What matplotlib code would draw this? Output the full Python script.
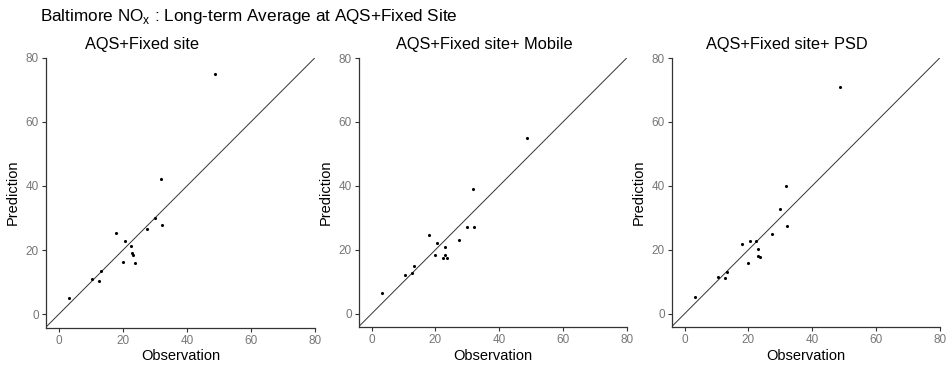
import numpy as np
import matplotlib
matplotlib.use("Agg")
import matplotlib.pyplot as plt

plt.rcParams["font.family"] = ["Liberation Sans", "DejaVu Sans"]
plt.rcParams["mathtext.fontset"] = "custom"
plt.rcParams["mathtext.rm"] = "Liberation Sans"

# observed long-term averages (same sites in every panel)
observation = [3.3, 10.4, 12.7, 13.3, 17.9, 19.9, 20.6, 22.4, 23.0, 23.1, 23.7,
               27.4, 29.9, 31.8, 32.1, 48.7]

# model predictions for each approach
pred_fixed = [5.2, 11.1, 10.4, 13.5, 25.2, 16.2, 22.9, 21.2, 19.2, 18.4, 15.9,
              26.5, 30.0, 42.3, 27.7, 74.9]
pred_mobile = [6.5, 12.2, 12.8, 15.0, 24.5, 18.2, 22.2, 17.5, 20.9, 18.4, 17.4,
               23.0, 27.1, 38.9, 27.1, 55.1]
pred_psd = [5.2, 11.5, 11.1, 12.9, 21.9, 15.9, 22.7, 22.7, 20.3, 18.0, 17.6,
            24.8, 32.6, 40.0, 27.3, 70.9]

titles = ["AQS+Fixed site", "AQS+Fixed site+ Mobile", "AQS+Fixed site+ PSD"]
preds = [pred_fixed, pred_mobile, pred_psd]
ticks = [0, 20, 40, 60, 80]

W, H = 947, 369
fig = plt.figure(figsize=(W / 100, H / 100), dpi=100)

# panel boxes in pixels: left, right, top, bottom
boxes = [(45.7, 315.0, 57.7, 327.7), (358.7, 626.7, 58.0, 327.0), (671.7, 939.7, 58.0, 327.0)]
title_x = [142, 484, 787]

for i in range(3):
    l, r, t, b = boxes[i]
    ax = fig.add_axes([l / W, 1 - b / H, (r - l) / W, (b - t) / H])
    ax.axline((0, 0), slope=1, color="#333333", lw=0.7, zorder=1)
    ax.scatter(observation, preds[i], s=5, color="black", zorder=2, linewidths=0)
    ax.set_xlim(-4.1, 80)
    ax.set_ylim(-4.2, 80)
    ax.set_xticks(ticks)
    ax.set_yticks(ticks)
    for s in ["top", "right"]:
        ax.spines[s].set_visible(False)
    for s in ["left", "bottom"]:
        ax.spines[s].set_color("#333333")
        ax.spines[s].set_linewidth(0.9)
    ax.tick_params(colors="#333333", labelcolor="#777777", labelsize=8.5, length=3, width=0.8, pad=2)
    ax.set_xlabel("Observation", fontsize=10.5, labelpad=2)
    ax.set_ylabel("Prediction", fontsize=10.5, labelpad=4)
    fig.text(title_x[i] / W, 1 - 44 / H, titles[i], ha="center", va="center", fontsize=11.8)

fig.text(40 / W, 1 - 17 / H, r"Baltimore NO$_\mathregular{x}$ : Long-term Average at AQS+Fixed Site",
         ha="left", va="center", fontsize=12.3)

fig.savefig("out.png", dpi=100)
